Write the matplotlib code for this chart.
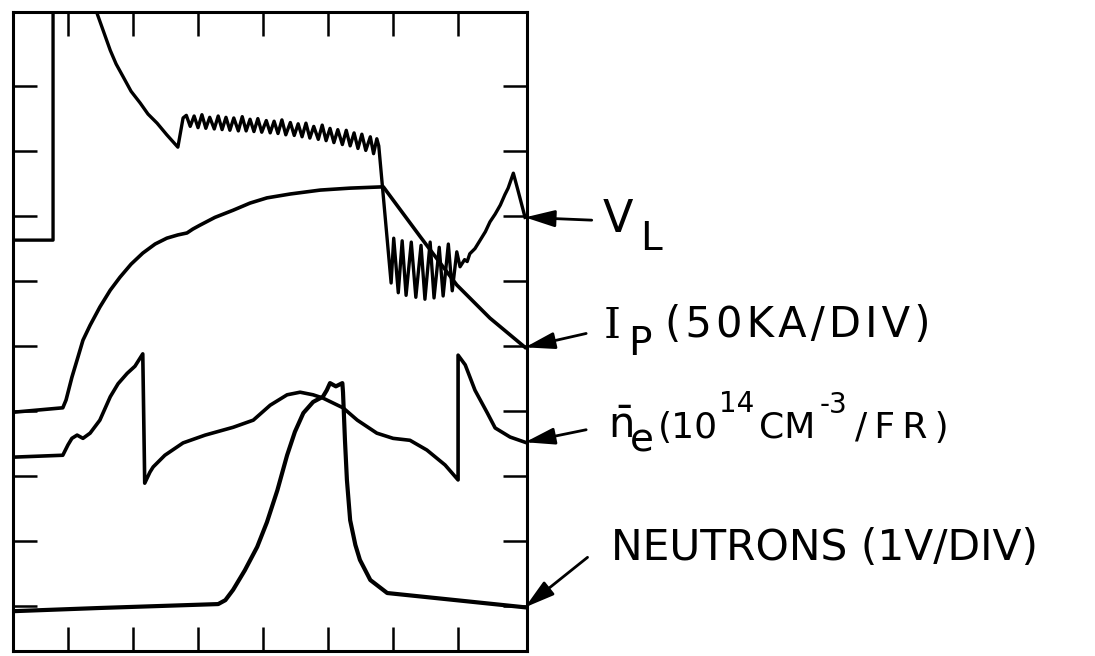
import matplotlib
matplotlib.use("Agg")
import matplotlib.pyplot as plt

W, H = 1095, 656

# Scope traces, time in horizontal divisions, signal in vertical divisions

# loop voltage V_L
vl_t = [0.14, 0.77, 0.77, 1.40, 1.45, 1.55, 1.65, 1.74, 1.85, 1.97, 2.11, 2.23,
        2.37, 2.52, 2.69, 2.77,
        2.82, 2.88, 2.94, 3.00, 3.06, 3.12, 3.18, 3.25, 3.31, 3.37, 3.43, 3.49,
        3.55, 3.62, 3.68, 3.74, 3.80, 3.86, 3.92, 3.98, 4.05, 4.11, 4.17, 4.23,
        4.29, 4.35, 4.42, 4.48, 4.54, 4.60, 4.66, 4.72, 4.78, 4.85, 4.91, 4.97,
        5.03, 5.09, 5.15, 5.22, 5.28, 5.34, 5.40, 5.46, 5.52, 5.58, 5.65, 5.70,
        5.75, 5.78,
        5.97, 6.01, 6.08, 6.14, 6.20, 6.28, 6.35, 6.43, 6.49, 6.57, 6.63, 6.71,
        6.77, 6.85, 6.91, 6.98, 7.03,
        7.10, 7.14, 7.18, 7.26, 7.34, 7.42, 7.49, 7.57, 7.65, 7.72, 7.77, 7.85,
        7.92, 8.03]
vl_y = [6.63, 6.63, 10.6, 10.6, 10.11, 9.83, 9.55, 9.34, 9.14, 8.92, 8.74, 8.57,
        8.43, 8.25, 8.06, 8.51,
        8.55, 8.38, 8.54, 8.36, 8.56, 8.35, 8.52, 8.34, 8.54, 8.33, 8.52, 8.32,
        8.51, 8.31, 8.53, 8.31, 8.49, 8.30, 8.50, 8.29, 8.47, 8.28, 8.46, 8.27,
        8.48, 8.25, 8.44, 8.24, 8.42, 8.22, 8.43, 8.20, 8.38, 8.18, 8.40, 8.16,
        8.35, 8.13, 8.33, 8.10, 8.32, 8.08, 8.28, 8.04, 8.26, 8.01, 8.22, 7.96,
        8.19, 8.08,
        5.97, 6.66, 5.82, 6.62, 5.78, 6.60, 5.75, 6.55, 5.72, 6.60, 5.74, 6.52,
        5.77, 6.57, 5.85, 6.45, 6.22,
        6.33, 6.30, 6.42, 6.50, 6.63, 6.76, 6.91, 7.03, 7.17, 7.33, 7.43, 7.66,
        7.40, 6.98]

# plasma current I_p
ip_t = [0.14, 0.92, 0.97, 1.06, 1.15, 1.23, 1.34, 1.49, 1.65, 1.80, 1.97, 2.15,
        2.34, 2.52, 2.69, 2.83, 2.92, 3.03, 3.26, 3.54, 3.80, 4.06, 4.42, 4.88,
        5.34, 5.85, 6.42, 6.98, 7.49, 8.03]
ip_y = [3.98, 4.05, 4.17, 4.52, 4.82, 5.09, 5.32, 5.60, 5.86, 6.06, 6.26, 6.43,
        6.57, 6.66, 6.71, 6.74, 6.80, 6.86, 6.98, 7.09, 7.20, 7.28, 7.34, 7.40,
        7.43, 7.45, 6.68, 5.94, 5.43, 4.98]

# line averaged density
ne_t = [0.14, 0.92, 1.00, 1.06, 1.14, 1.23, 1.34, 1.49, 1.65, 1.77, 1.91, 2.03,
        2.15, 2.18, 2.26, 2.31, 2.49, 2.77, 3.11, 3.54, 3.85, 4.11, 4.37, 4.57,
        4.77, 4.92, 5.23, 5.45, 5.75, 6.00, 6.26, 6.52, 6.80, 7.00, 7.00, 7.11,
        7.26, 7.45, 7.57, 7.80, 8.03]
ne_y = [3.29, 3.32, 3.48, 3.58, 3.63, 3.58, 3.66, 3.86, 4.22, 4.42, 4.58, 4.69,
        4.88, 2.89, 3.06, 3.14, 3.32, 3.51, 3.63, 3.75, 3.86, 4.09, 4.25, 4.29,
        4.25, 4.20, 4.05, 3.86, 3.66, 3.58, 3.55, 3.40, 3.17, 2.94, 4.86, 4.71,
        4.32, 3.97, 3.74, 3.60, 3.52]

# neutron signal
nt_t = [0.14, 1.49, 3.31, 3.42, 3.54, 3.72, 3.91, 4.06, 4.22, 4.37, 4.49, 4.62,
        4.77, 4.92, 4.98, 5.03, 5.12, 5.22, 5.23, 5.26, 5.29, 5.34, 5.42, 5.49,
        5.65, 5.91, 8.03]
nt_y = [0.92, 0.97, 1.03, 1.09, 1.25, 1.55, 1.91, 2.29, 2.78, 3.32, 3.68, 3.97,
        4.14, 4.22, 4.32, 4.43, 4.38, 4.43, 4.29, 3.55, 2.94, 2.32, 1.94, 1.71,
        1.40, 1.20, 0.98]

x_ticks = [1, 2, 3, 4, 5, 6, 7]
y_ticks = [1, 2, 3, 4, 5, 6, 7, 8, 9]

fig = plt.figure(figsize=(W / 100, H / 100), dpi=100)
fig.patch.set_facecolor("white")
ax = fig.add_axes([13 / W, 1 - 651 / H, (527 - 13) / W, (651 - 12) / H])
ax.set_xlim(0.154, 8.06)
ax.set_ylim(0.308, 10.14)

ax.plot(vl_t, vl_y, color="black", lw=2.4)
ax.plot(ip_t, ip_y, color="black", lw=2.6)
ax.plot(ne_t, ne_y, color="black", lw=2.6)
ax.plot(nt_t, nt_y, color="black", lw=3.0)

ax.set_xticks(x_ticks)
ax.set_yticks(y_ticks)
ax.tick_params(direction="in", length=17, width=1.8, top=True, right=True,
               labelbottom=False, labelleft=False)
for sp in ax.spines.values():
    sp.set_linewidth(2.2)

# arrows from the labels to the trace ends
arrow = dict(arrowstyle="-|>,head_length=0.6,head_width=0.17", color="black",
             lw=2.0, mutation_scale=30, shrinkA=0, shrinkB=0)
ax.annotate("", xy=(vl_t[-1], vl_y[-1]), xytext=(48, -2),
            textcoords="offset points", arrowprops=arrow, annotation_clip=False)
ax.annotate("", xy=(ip_t[-1], ip_y[-1]), xytext=(44, 10),
            textcoords="offset points", arrowprops=arrow, annotation_clip=False)
ax.annotate("", xy=(ne_t[-1], ne_y[-1]), xytext=(44, 9),
            textcoords="offset points", arrowprops=arrow, annotation_clip=False)
ax.annotate("", xy=(nt_t[-1], nt_y[-1]), xytext=(45, 36),
            textcoords="offset points", arrowprops=arrow, annotation_clip=False)


def label(x, y, s, size, family="DejaVu Sans"):
    fig.text(x / W, 1 - y / H, s, fontsize=size, ha="left", va="baseline",
             family=family)


hs = "\u200a"
ts = "\u2009"
label(603, 232, "V", 32)
label(640, 250, "L", 28)
label(604, 338, "I", 31, family="DejaVu Serif")
label(628, 355, "P", 28)
label(665, 337, hs.join("(50KA/DIV)"), 30)
label(608, 438, r"$\bar{\mathrm{n}}$", 30)
label(630, 452, "e", 28)
label(658, 438, "(10", 26)
label(719, 412, "14", 20)
label(759, 438, "CM", 26)
label(820, 413, "-3", 20)
label(855, 438, ts.join("/FR)"), 26)
label(611, 560, "NEUTRONS (1V/DIV)", 30.5)

fig.savefig("out.png", dpi=100, facecolor="white")
